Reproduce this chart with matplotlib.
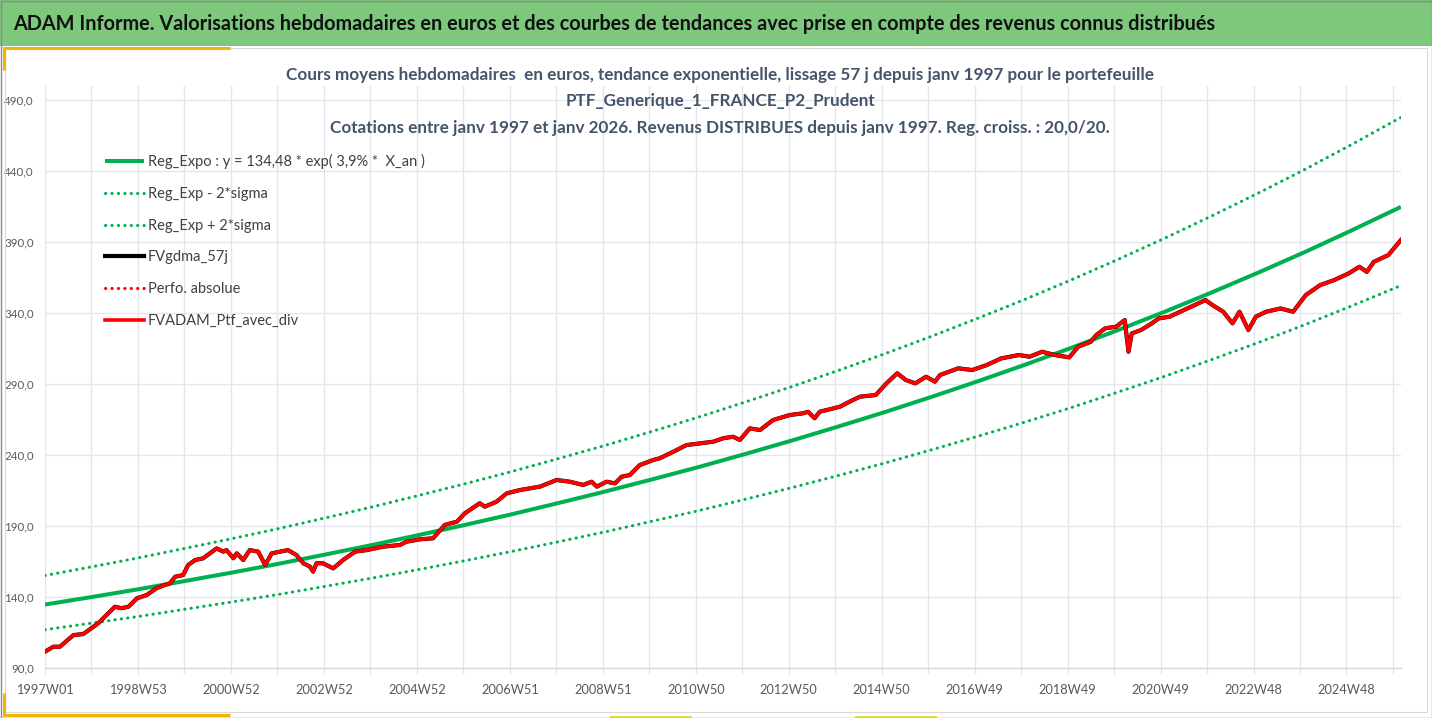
import matplotlib
matplotlib.use("Agg")
import matplotlib.pyplot as plt
from matplotlib.patches import Rectangle
from matplotlib.lines import Line2D
import numpy as np

# ---------------- data ----------------
title = ("ADAM Informe. Valorisations hebdomadaires en euros et des courbes de tendances "
         "avec prise en compte des revenus connus distribués")
subtitle_lines = [
    "Cours moyens hebdomadaires  en euros, tendance exponentielle, lissage 57 j depuis janv 1997 pour le portefeuille",
    "PTF_Generique_1_FRANCE_P2_Prudent",
    "Cotations entre janv 1997 et janv 2026. Revenus DISTRIBUES depuis janv 1997. Reg. croiss. : 20,0/20.",
]
legend_labels = [
    "Reg_Expo : y = 134,48 * exp( 3,9% *  X_an )",
    "Reg_Exp - 2*sigma",
    "Reg_Exp + 2*sigma",
    "FVgdma_57j",
    "Perfo. absolue",
    "FVADAM_Ptf_avec_div",
]
tick_labels = ["1997W01", "1998W53", "2000W52", "2002W52", "2004W52", "2006W51", "2008W51",
               "2010W50", "2012W50", "2014W50", "2016W49", "2018W49", "2020W49", "2022W48", "2024W48"]
weeks_per_year = 52.18
n_weeks = 1517

# trend curves, read at yearly points (years since 1997W01)
trend_years = [0, 1, 2, 3, 4, 5, 6, 7, 8, 9, 10, 11, 12, 13, 14, 15, 16, 17, 18, 19,
               20, 21, 22, 23, 24, 25, 26, 27, 28, 29, 29.07]
reg_expo = [134.5, 139.8, 145.3, 151.1, 157.0, 163.2, 169.7, 176.4, 183.4, 190.6, 198.1,
            206.0, 214.1, 222.6, 231.3, 240.5, 250.0, 259.9, 270.1, 280.8, 291.9, 303.4,
            315.4, 327.9, 340.8, 354.3, 368.3, 382.8, 398.0, 413.7, 414.8]
reg_minus = [116.8, 121.4, 126.1, 131.2, 136.3, 141.6, 147.3, 153.1, 159.1, 165.4, 171.9,
             178.7, 185.7, 193.1, 200.6, 208.6, 216.8, 225.4, 234.2, 243.5, 253.1, 263.0,
             273.3, 284.2, 295.3, 307.0, 319.0, 331.6, 344.8, 358.4, 359.3]
reg_plus = [155.0, 161.1, 167.4, 174.1, 180.9, 188.0, 195.5, 203.2, 211.3, 219.6, 228.2,
            237.3, 246.6, 256.4, 266.5, 277.1, 288.0, 299.4, 311.2, 323.5, 336.3, 349.5,
            363.3, 377.7, 392.6, 408.2, 424.3, 441.0, 458.5, 476.6, 477.8]

# portfolio valuation (decimal year, value)
ptf_years = [1997.0, 1997.18, 1997.32, 1997.61, 1997.82, 1998.14, 1998.32, 1998.5, 1998.64, 1998.79,
             1998.97, 1999.18, 1999.39, 1999.57, 1999.68, 1999.79, 1999.96, 2000.07, 2000.22, 2000.39,
             2000.68, 2000.82, 2000.89, 2001.04, 2001.11, 2001.25, 2001.39, 2001.57, 2001.72, 2001.86,
             2002.04, 2002.21, 2002.39, 2002.54, 2002.68, 2002.75, 2002.82, 2002.96, 2003.18, 2003.39,
             2003.65, 2003.9, 2004.25, 2004.61, 2004.75, 2005.04, 2005.32, 2005.57, 2005.83, 2006.0,
             2006.32, 2006.43, 2006.68, 2006.9, 2007.18, 2007.61, 2007.97, 2008.25, 2008.54, 2008.72,
             2008.83, 2009.04, 2009.22, 2009.36, 2009.54, 2009.75, 2010.04, 2010.18, 2010.47, 2010.75,
             2011.04, 2011.33, 2011.54, 2011.75, 2011.9, 2012.11, 2012.33, 2012.61, 2012.97, 2013.25,
             2013.36, 2013.5, 2013.61, 2013.9, 2014.04, 2014.25, 2014.47, 2014.81, 2015.04, 2015.27,
             2015.46, 2015.66, 2015.89, 2016.08, 2016.19, 2016.58, 2016.88, 2017.19, 2017.5, 2017.88,
             2018.11, 2018.38, 2018.65, 2018.96, 2019.15, 2019.42, 2019.54, 2019.73, 2019.96, 2020.15,
             2020.23, 2020.3, 2020.5, 2020.73, 2020.88, 2021.11, 2021.42, 2021.65, 2021.88, 2022.03,
             2022.26, 2022.46, 2022.61, 2022.8, 2022.96, 2023.18, 2023.49, 2023.76, 2024.03, 2024.34,
             2024.64, 2024.95, 2025.18, 2025.34, 2025.49, 2025.8, 2026.07]
ptf_values = [101.3, 104.8, 104.8, 113.0, 113.7, 121.3, 127.1, 133.0, 131.9, 133.0,
              138.9, 141.2, 146.0, 148.3, 149.5, 154.1, 155.3, 162.4, 165.9, 167.1,
              174.1, 171.8, 172.9, 167.1, 170.6, 165.9, 172.9, 171.8, 162.4, 170.6,
              171.8, 172.9, 169.4, 163.6, 161.2, 157.7, 163.6, 163.6, 160.0, 165.9,
              171.8, 172.9, 175.3, 176.5, 178.8, 180.5, 181.2, 190.6, 192.9, 198.8,
              205.9, 203.5, 207.0, 212.9, 215.2, 217.6, 222.3, 221.1, 218.8, 221.1,
              217.6, 221.1, 219.9, 224.6, 225.8, 232.8, 236.4, 237.6, 242.2, 246.9,
              248.1, 249.3, 251.7, 252.8, 250.5, 258.7, 257.5, 264.6, 268.1, 269.3,
              270.4, 265.8, 270.4, 272.8, 273.9, 277.5, 281.0, 282.2, 290.4, 297.5,
              292.7, 290.4, 295.1, 291.6, 296.3, 301.0, 299.8, 303.3, 308.0, 310.4,
              309.2, 312.7, 310.4, 308.7, 316.2, 319.7, 324.5, 329.2, 330.3, 335.0,
              312.7, 325.6, 328.0, 332.7, 336.2, 337.4, 342.1, 345.6, 349.1, 345.6,
              340.9, 332.7, 340.9, 328.0, 337.4, 340.9, 343.2, 340.9, 352.6, 359.7,
              363.2, 367.9, 372.6, 369.0, 376.1, 380.8, 391.4]

y_ticks = [90, 140, 190, 240, 290, 340, 390, 440, 490]

# ---------------- figure ----------------
W, H = 1432, 718
fig = plt.figure(figsize=(W / 100, H / 100), dpi=100)
plt.rcParams['font.family'] = ['Lato', 'DejaVu Sans']

# header band
fig.patches.append(Rectangle((0, 1 - 46 / H), 1, 46 / H, transform=fig.transFigure,
                             facecolor='#7DC87D', edgecolor='none', zorder=0))
fig.text(13 / W, 1 - 24 / H, title, fontsize=14.35, fontweight='bold', color='#111111',
         ha='left', va='center')

# decorative borders
def fline(xs, ys, **kw):
    fig.add_artist(Line2D([x / W for x in xs], [1 - y / H for y in ys],
                          transform=fig.transFigure, **kw))

fline([5, 5, 1427], [712, 48, 48], color='#D9D9D9', lw=0.8)
fline([5, 1427, 1427], [712, 712, 48], color='#D9D9D9', lw=0.8)
fline([3, 230], [48, 48], color='#F4B400', lw=2.2, solid_capstyle='butt')
fline([4, 4], [47, 70], color='#F4B400', lw=2.2, solid_capstyle='butt')
fline([3, 230], [714.5, 714.5], color='#F4B400', lw=2.2, solid_capstyle='butt')
fline([4, 4], [693, 716], color='#F4B400', lw=2.2, solid_capstyle='butt')
fline([610, 692], [716.5, 716.5], color='#E6E23A', lw=1.5, solid_capstyle='butt')
fline([855, 937], [716.5, 716.5], color='#E6E23A', lw=1.5, solid_capstyle='butt')
fline([0.5, 1431.5, 1431.5, 0.5, 0.5], [0.5, 0.5, 717.5, 717.5, 0.5], color='#8A8A8A', lw=1.0)

# subtitle
sub_y = [75, 101, 128]
for s, yy in zip(subtitle_lines, sub_y):
    fig.text(720 / W, 1 - yy / H, s, fontsize=12.3, fontweight='bold', color='#44546A',
             ha='center', va='center')

# axes
left, right, top, bottom = 45, 1401, 86, 667.7
ax = fig.add_axes([left / W, 1 - bottom / H, (right - left) / W, (bottom - top) / H])
ax.set_facecolor('none')

tw = [t * weeks_per_year for t in trend_years]
pw = [(y - 1997.0) * weeks_per_year for y in ptf_years]

dot = (0, (0.1, 2.0))
green = '#00B050'
l1, = ax.plot(tw, reg_expo, color=green, lw=2.9, solid_capstyle='butt', zorder=3)
l2, = ax.plot(tw, reg_minus, color=green, lw=2.2, linestyle=dot, dash_capstyle='round', zorder=3)
l3, = ax.plot(tw, reg_plus, color=green, lw=2.2, linestyle=dot, dash_capstyle='round', zorder=3)
l4, = ax.plot(pw, ptf_values, color='black', lw=3.0, zorder=4)
l5, = ax.plot(pw, ptf_values, color='#FF0000', lw=2.2, linestyle=dot, dash_capstyle='round', zorder=5)
l6, = ax.plot(pw, ptf_values, color='#FF0000', lw=2.6, zorder=6)

ax.set_xlim(0, n_weeks)
ax.set_ylim(90, 500)
ax.set_yticks(y_ticks)
ax.set_yticklabels([f"{v:.1f}".replace('.', ',') for v in y_ticks])

grid_pos = list(range(0, n_weeks, 52))
ax.set_xticks(grid_pos)
lab = []
for i, g in enumerate(grid_pos):
    lab.append(tick_labels[i // 2] if i % 2 == 0 and i // 2 < len(tick_labels) else "")
ax.set_xticklabels(lab)

grid_c = '#E3E6EC'
ax.grid(True, color=grid_c, lw=1.0, zorder=0)
ax.set_axisbelow(True)
for s in ['left', 'right', 'top']:
    ax.spines[s].set_visible(False)
ax.spines['bottom'].set_color('#D9D9D9')
ax.spines['bottom'].set_linewidth(1.0)
ax.tick_params(axis='x', length=4, width=1.0, color=grid_c, direction='out', pad=8,
               labelsize=9.2, labelcolor='#595959')
ax.tick_params(axis='y', length=0, pad=8, labelsize=8.3, labelcolor='#595959')

leg = ax.legend([l1, l2, l3, l4, l5, l6], legend_labels, loc='upper left',
                bbox_to_anchor=(105 / W, 1 - 154 / H), bbox_transform=fig.transFigure,
                frameon=False, fontsize=10.5, handlelength=2.7, handletextpad=0.25,
                labelspacing=1.22, borderpad=0, borderaxespad=0)
for t in leg.get_texts():
    t.set_color('#404040')

fig.savefig('out.png', dpi=100)
